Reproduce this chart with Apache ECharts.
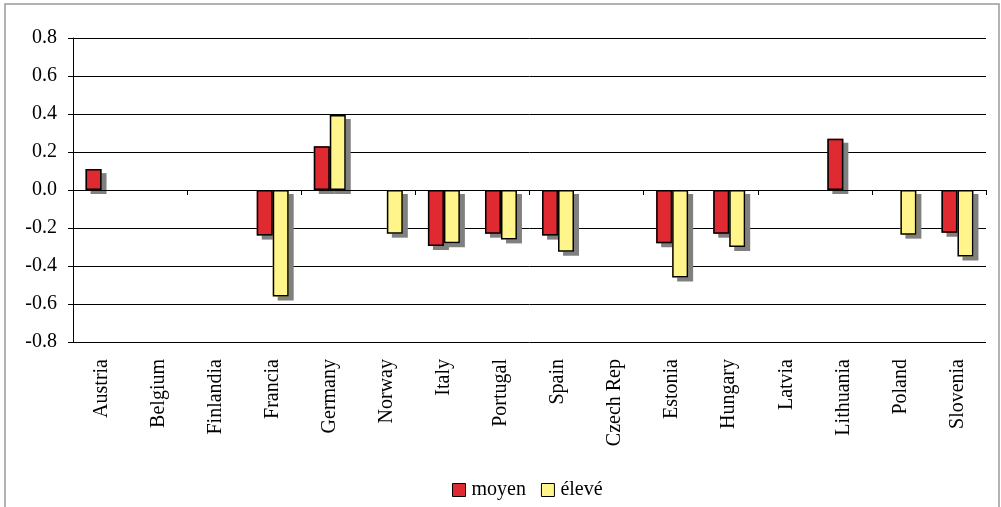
<!DOCTYPE html>
<html>
<head>
<meta charset="utf-8">
<script src="https://cdn.jsdelivr.net/npm/echarts@6/dist/echarts.min.js"></script>
<style>html,body{margin:0;padding:0;background:#fff;}#c{width:1001px;height:507px;}</style>
</head>
<body>
<div id="c"></div>
<script>
var categories = ['Austria','Belgium','Finlandia','Francia','Germany','Norway','Italy','Portugal','Spain','Czech Rep','Estonia','Hungary','Latvia','Lithuania','Poland','Slovenia'];
var moyen = [0.11, null, null, -0.24, 0.23, null, -0.295, -0.23, -0.24, null, -0.28, -0.23, null, 0.27, null, -0.225];
var eleve = [null, null, null, -0.56, 0.395, -0.23, -0.28, -0.26, -0.325, null, -0.46, -0.30, null, null, -0.235, -0.35];
var yTicks = {min: -0.8, max: 0.8, interval: 0.2};

var font = 'Liberation Serif, Times New Roman, serif';
var chart = echarts.init(document.getElementById('c'), null, {renderer: 'canvas'});
var fillStyle = function (color) {
  return {
    color: color,
    borderWidth: 0,
    shadowColor: '#808080',
    shadowBlur: 0,
    shadowOffsetX: 5,
    shadowOffsetY: 4
  };
};
var borderStyle = {
  color: 'rgba(0,0,0,0)',
  borderColor: '#000',
  borderWidth: 1.5
};
chart.setOption({
  animation: false,
  backgroundColor: '#fff',
  graphic: [{
    type: 'rect',
    shape: {x: 5, y: 4, width: 994, height: 520},
    style: {fill: 'none', stroke: '#999', lineWidth: 1.5},
    silent: true,
    z: -1
  }],
  grid: {left: 73, right: 15, top: 38, bottom: 165, containLabel: false},
  legend: {
    top: 480,
    left: 452,
    itemWidth: 13,
    itemHeight: 13,
    itemGap: 15,
    icon: 'rect',
    textStyle: {fontFamily: font, fontSize: 20, color: '#000', padding: [0, 0, 0, 1]},
    itemStyle: {borderColor: '#000', borderWidth: 1, shadowColor: 'rgba(0,0,0,0)', shadowOffsetX: 0, shadowOffsetY: 0},
    padding: 0,
    data: ['moyen', 'élevé']
  },
  xAxis: [{
    type: 'category',
    data: categories,
    position: 'bottom',
    axisLine: {show: true, onZero: true, lineStyle: {color: '#000', width: 1}},
    axisTick: {show: true, length: 5, lineStyle: {color: '#000'}},
    axisLabel: {show: false},
    splitLine: {show: false},
    z: 10
  }, {
    type: 'category',
    data: categories,
    position: 'bottom',
    axisLine: {show: false, onZero: false},
    axisTick: {show: false},
    axisLabel: {
      show: true, rotate: 90, interval: 0, margin: 17,
      fontFamily: font, fontSize: 20, color: '#000'
    }
  }, {
    type: 'category',
    data: categories,
    show: false,
    position: 'bottom'
  }],
  yAxis: {
    type: 'value',
    min: yTicks.min,
    max: yTicks.max,
    interval: yTicks.interval,
    axisLine: {show: true, lineStyle: {color: '#000', width: 1}},
    axisTick: {show: true, length: 5, lineStyle: {color: '#000'}},
    axisLabel: {
      fontFamily: font, fontSize: 20, color: '#000', margin: 16,
      formatter: function (v) { return v.toFixed(1); }
    },
    splitLine: {show: true, lineStyle: {color: '#000', width: 1}}
  },
  series: [{
    name: 'moyen',
    type: 'bar',
    xAxisIndex: 0,
    data: moyen,
    barGap: '0%',
    barCategoryGap: '44%',
    itemStyle: fillStyle('#DE2A30'),
    z: 2
  }, {
    name: 'élevé',
    type: 'bar',
    xAxisIndex: 0,
    data: eleve,
    barGap: '0%',
    barCategoryGap: '44%',
    itemStyle: fillStyle('#FFF58A'),
    z: 2
  }, {
    name: 'moyen-border',
    type: 'bar',
    xAxisIndex: 2,
    data: moyen,
    barGap: '0%',
    barCategoryGap: '44%',
    itemStyle: borderStyle,
    silent: true,
    z: 3
  }, {
    name: 'élevé-border',
    type: 'bar',
    xAxisIndex: 2,
    data: eleve,
    barGap: '0%',
    barCategoryGap: '44%',
    itemStyle: borderStyle,
    silent: true,
    z: 3
  }]
});
</script>
</body>
</html>
